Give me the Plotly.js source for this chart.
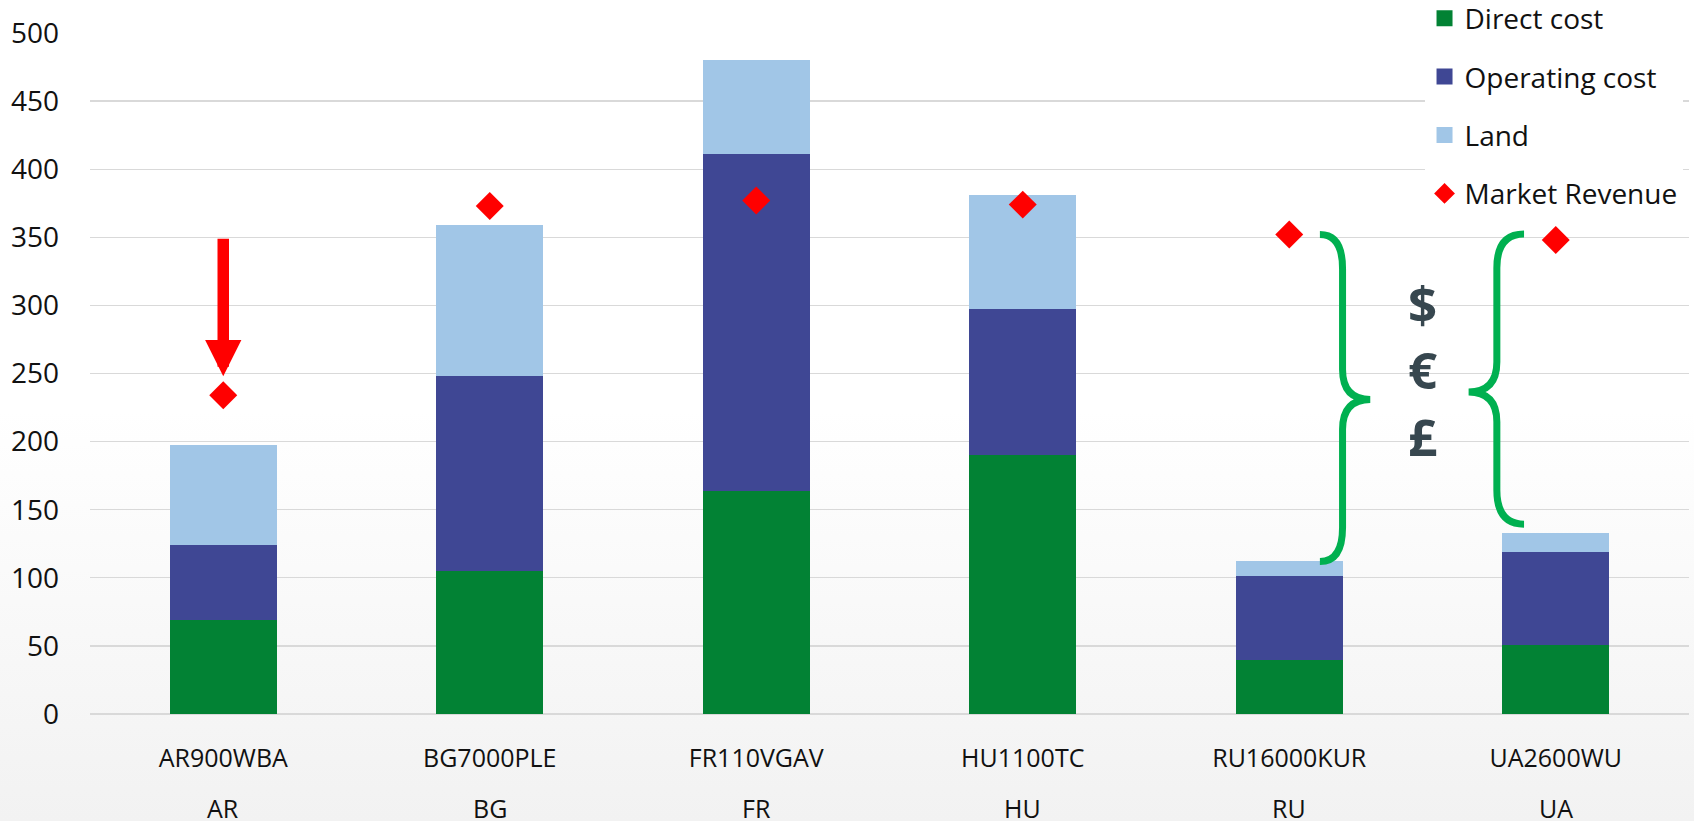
<!DOCTYPE html>
<html>
<head>
<meta charset="utf-8">
<script src="https://cdn.plot.ly/plotly-3.0.1.min.js"></script>
<style>
  html, body {
    margin: 0;
    padding: 0;
    width: 1694px;
    height: 821px;
    overflow: hidden;
    background: linear-gradient(to bottom, #ffffff 0%, #ffffff 50%, #f2f2f2 100%);
  }
  #chart { width: 1694px; height: 821px; }
</style>
</head>
<body>
<div id="chart"></div>
<script>
// Sites and their country codes
const sites = ['AR900WBA', 'BG7000PLE', 'FR110VGAV', 'HU1100TC', 'RU16000KUR', 'UA2600WU'];
const countries = ['AR', 'BG', 'FR', 'HU', 'RU', 'UA'];

// Stacked cost components per site
const directCost = [69, 105, 164, 190, 40, 51];
const operatingCost = [55, 143, 247, 107.5, 61, 68];
const landCost = [73.6, 111, 69, 83.2, 11, 14];

// Market revenue per site
const marketRevenue = [234, 373, 377, 374, 352, 348];

// Revenue drop arrow on the first site (from / to)
const arrowFrom = 350;
const arrowTo = 248;

// Series names and colours
const seriesNames = ['Direct cost', 'Operating cost', 'Land', 'Market Revenue'];
const seriesColors = ['#028234', '#3f4794', '#a1c6e7', '#ff0000'];

const FONT = 'Open Sans, Lato, sans-serif';
const TEXT = '#111111';

const costSeries = [directCost, operatingCost, landCost];

const traces = [];
// Stacked bars (legend entries come from the square-marker traces below)
costSeries.forEach((vals, i) => {
  traces.push({
    type: 'bar', name: seriesNames[i], x: sites, y: vals,
    marker: { color: seriesColors[i] },
    legendgroup: 'g' + i, showlegend: false, hoverinfo: 'x+y+name'
  });
});
// Larger square legend keys for the cost series
costSeries.forEach((vals, i) => {
  traces.push({
    type: 'scatter', mode: 'markers', name: seriesNames[i],
    x: [null], y: [null],
    marker: { symbol: 'square', size: 16, color: seriesColors[i] },
    legendgroup: 'g' + i, showlegend: true, hoverinfo: 'skip'
  });
});
traces.push({
  type: 'scatter', mode: 'markers', name: seriesNames[3], x: sites, y: marketRevenue,
  marker: { symbol: 'diamond', size: 21.5, color: seriesColors[3] },
  legendgroup: 'g3'
});

// Curly brace path in data coordinates (x in category serial units)
function bracePath(xTip, xSpine, xPoint, yTop, yMid, yBot, r, rm) {
  return 'M' + xTip + ',' + yTop +
    ' Q' + xSpine + ',' + yTop + ' ' + xSpine + ',' + (yTop - r) +
    ' L' + xSpine + ',' + (yMid + rm) +
    ' Q' + xSpine + ',' + yMid + ' ' + xPoint + ',' + yMid +
    ' Q' + xSpine + ',' + yMid + ' ' + xSpine + ',' + (yMid - rm) +
    ' L' + xSpine + ',' + (yBot + r) +
    ' Q' + xSpine + ',' + yBot + ' ' + xTip + ',' + yBot;
}

const braceLine = { color: '#00b050', width: 7 };
const shapes = [
  {
    type: 'path', xref: 'x', yref: 'y', layer: 'above',
    path: bracePath(4.115, 4.2, 4.304, 352, 231, 112, 25, 22),
    line: braceLine
  },
  {
    type: 'path', xref: 'x', yref: 'y', layer: 'above',
    path: bracePath(4.881, 4.779, 4.673, 352.5, 236.4, 139.4, 25, 22),
    line: braceLine
  }
];

const annotations = countries.map((c, i) => ({
  x: sites[i], xref: 'x', y: -0.138, yref: 'paper',
  text: c, showarrow: false, yanchor: 'middle', xanchor: 'center',
  font: { family: FONT, size: 25, color: TEXT }
}));

// Currency symbols between the two braces
annotations.push({
  x: 4.5, xref: 'x', y: 253, yref: 'y',
  text: '<b>$<br>€<br>£</b>', showarrow: false,
  xanchor: 'center', yanchor: 'middle', align: 'center',
  font: { family: FONT, size: 51, color: '#37474f' }
});

// Red downward arrow on the first site
annotations.push({
  x: sites[0], y: arrowTo, xref: 'x', yref: 'y',
  ax: sites[0], ay: arrowFrom, axref: 'x', ayref: 'y',
  text: '', showarrow: true,
  arrowhead: 2, arrowwidth: 11.5, arrowsize: 0.63, arrowcolor: '#ff0000'
});

const layout = {
  width: 1694,
  height: 821,
  margin: { l: 90, r: 5, t: 33, b: 107, autoexpand: false },
  paper_bgcolor: 'rgba(0,0,0,0)',
  plot_bgcolor: 'rgba(0,0,0,0)',
  barmode: 'stack',
  bargap: 0.6,
  font: { family: FONT, color: TEXT },
  xaxis: {
    type: 'category',
    categoryorder: 'array',
    categoryarray: sites,
    showgrid: false,
    zeroline: false,
    showline: false,
    ticks: 'outside',
    ticklen: 22,
    tickcolor: 'rgba(0,0,0,0)',
    tickfont: { family: FONT, size: 25, color: TEXT },
    automargin: false
  },
  yaxis: {
    range: [0, 500],
    dtick: 50,
    showgrid: true,
    gridcolor: '#d9d9d9',
    gridwidth: 1.3,
    zeroline: true,
    zerolinecolor: '#d9d9d9',
    zerolinewidth: 1.3,
    showline: false,
    ticks: '',
    tickfont: { family: FONT, size: 28, color: TEXT },
    ticklabelstandoff: 30,
    automargin: false
  },
  legend: {
    x: 0.8346, y: 1.058, xanchor: 'left', yanchor: 'top',
    bgcolor: '#ffffff',
    font: { family: FONT, size: 28, color: TEXT },
    traceorder: 'grouped',
    tracegroupgap: 19
  },
  shapes: shapes,
  annotations: annotations
};

Plotly.newPlot('chart', traces, layout, { displayModeBar: false, staticPlot: true });
</script>
</body>
</html>
